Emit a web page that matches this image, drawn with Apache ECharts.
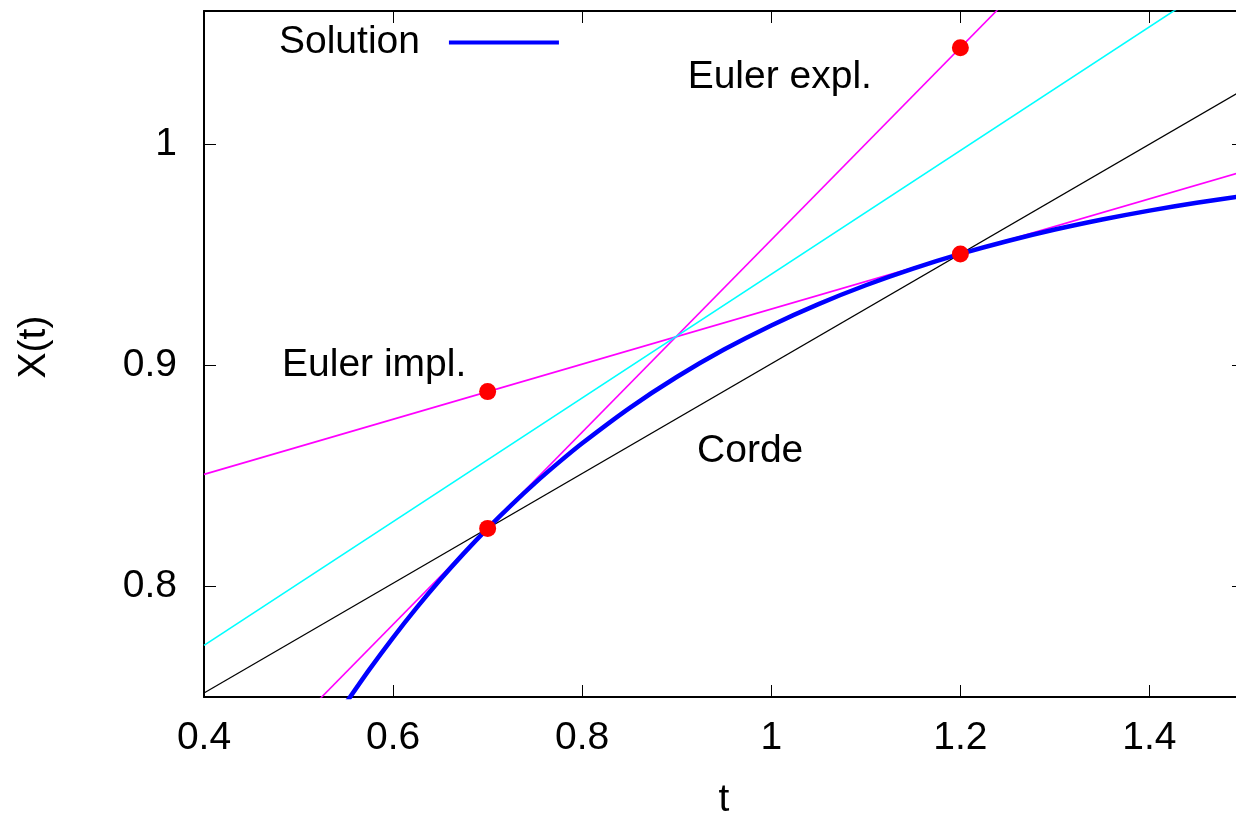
<!DOCTYPE html>
<html><head><meta charset="utf-8">
<script src="https://cdn.jsdelivr.net/npm/echarts@6/dist/echarts.min.js"></script>
<style>html,body{margin:0;padding:0;background:#fff}#c{width:1236px;height:815px}</style>
</head><body><div id="c"></div>
<script>
// Axis ticks
const xTicks = [0.4, 0.6, 0.8, 1.0, 1.2, 1.4];
const yTicks = [0.8, 0.9, 1.0];
// Solution curve X(t)
const solT = [0.55,0.575,0.6,0.625,0.65,0.675,0.7,0.725,0.75,0.775,0.8,0.85,0.9,0.95,1.0,1.05,1.1,1.15,1.2,1.25,1.3,1.35,1.4,1.45,1.5];
const solX = [0.74716,0.76246,0.77687,0.79039,0.80309,0.81502,0.82623,0.83675,0.84665,0.85590,0.86466,0.88057,0.89460,0.90699,0.91792,0.92756,0.93607,0.94358,0.95021,0.95606,0.96123,0.96578,0.96980,0.97335,0.97648];
// Straight lines (endpoints)
const explT = [0.4, 1.5];  const explX = [0.6959, 1.1738];   // tangent at t=0.7 (Euler expl.)
const implT = [0.4, 1.5];  const implX = [0.8506, 0.98755];  // tangent at t=1.2 (Euler impl.)
const cordT = [0.4, 1.5];  const cordX = [0.7518, 1.0246];   // chord
const midT  = [0.4, 1.5];  const midX  = [0.7733, 1.0808];   // average slope
// Red points
const ptT = [0.7, 1.2, 1.2, 0.7];
const ptX = [0.8262, 0.9502, 1.0434, 0.8880];
// Annotations
const annotNames = ['Euler expl.', 'Euler impl.', 'Corde'];
const annotT = [0.911, 0.482, 0.921];
const annotX = [1.030, 0.900, 0.861];

const FONT = 'Liberation Sans, Arial, sans-serif';
const FS = 39;
const zip = (a, b) => a.map((v, i) => [v, b[i]]);

const chart = echarts.init(document.getElementById('c'));
const lineSeries = (name, t, x, color, w) => ({
  name, type: 'line', data: zip(t, x), showSymbol: false, symbol: 'none', color,
  itemStyle: {color}, lineStyle: {color, width: w}, clip: true, silent: true, animation: false, z: 2
});
chart.setOption({
  animation: false,
  backgroundColor: '#fff',
  textStyle: {fontFamily: FONT},
  grid: {left: 204, top: 11, width: 1040, height: 686, containLabel: false, outerBoundsMode: 'none'},
  legend: {
    data: ['Solution'], left: 279, top: 23, padding: 0, align: 'right',
    icon: 'rect', itemWidth: 110, itemHeight: 4, selectedMode: false,
    itemStyle: {color: '#0000ff'},
    textStyle: {fontSize: FS, color: '#000', fontFamily: FONT, padding: [0, 24, 0, 0]}
  },
  xAxis: [{
    type: 'value', min: 0.4, max: 1.5, position: 'bottom',
    name: 't', nameLocation: 'middle', nameGap: 84,
    nameTextStyle: {fontSize: FS, color: '#000', fontFamily: FONT},
    axisLine: {show: true, onZero: false, lineStyle: {color: '#000', width: 2}},
    axisTick: {show: true, inside: true, length: 12, lineStyle: {color: '#000', width: 1}, customValues: xTicks},
    axisLabel: {show: true, margin: 22, fontSize: FS, color: '#000', fontFamily: FONT, customValues: xTicks,
      formatter: v => String(+v.toFixed(2))},
    splitLine: {show: false}
  }, {
    type: 'value', min: 0.4, max: 1.5, position: 'top',
    axisLine: {show: true, onZero: false, lineStyle: {color: '#000', width: 2}},
    axisTick: {show: true, inside: true, length: 12, lineStyle: {color: '#000', width: 1}, customValues: xTicks},
    axisLabel: {show: false}, splitLine: {show: false}
  }],
  yAxis: [{
    type: 'value', min: 0.75, max: 1.06, position: 'left',
    name: 'X(t)', nameLocation: 'middle', nameGap: 150, nameRotate: 90,
    nameTextStyle: {fontSize: FS, color: '#000', fontFamily: FONT, padding: [0, 0, 0, 14]},
    axisLine: {show: true, onZero: false, lineStyle: {color: '#000', width: 2}},
    axisTick: {show: true, inside: true, length: 12, lineStyle: {color: '#000', width: 1}, customValues: yTicks},
    axisLabel: {show: true, margin: 27, fontSize: FS, color: '#000', fontFamily: FONT, customValues: yTicks,
      formatter: v => String(+v.toFixed(2))},
    splitLine: {show: false}
  }, {
    type: 'value', min: 0.75, max: 1.06, position: 'right',
    axisLine: {show: true, onZero: false, lineStyle: {color: '#000', width: 2}},
    axisTick: {show: true, inside: true, length: 12, lineStyle: {color: '#000', width: 1}, customValues: yTicks},
    axisLabel: {show: false}, splitLine: {show: false}
  }],
  series: [
    Object.assign(lineSeries('Solution', solT, solX, '#0000ff', 4.5), {smooth: 0.3, z: 3}),
    lineSeries('expl', explT, explX, '#ff00ff', 1.6),
    lineSeries('impl', implT, implX, '#ff00ff', 1.6),
    lineSeries('cyan', midT, midX, '#00ffff', 1.6),
    lineSeries('corde', cordT, cordX, '#000000', 1.3),
    {
      name: 'points', type: 'scatter', data: zip(ptT, ptX), symbol: 'circle', symbolSize: 17,
      itemStyle: {color: '#ff0000', opacity: 1}, z: 5, silent: true, clip: false
    },
    {
      name: 'annot', type: 'scatter', symbolSize: 1, silent: true, z: 6,
      itemStyle: {color: 'rgba(0,0,0,0)', opacity: 1},
      data: annotNames.map((n, i) => ({name: n, value: [annotT[i], annotX[i]]})),
      label: {show: true, position: 'right', distance: 0, formatter: p => p.name,
        fontSize: FS, color: '#000', opacity: 1, fontFamily: FONT}
    }
  ]
});
</script>
</body></html>
